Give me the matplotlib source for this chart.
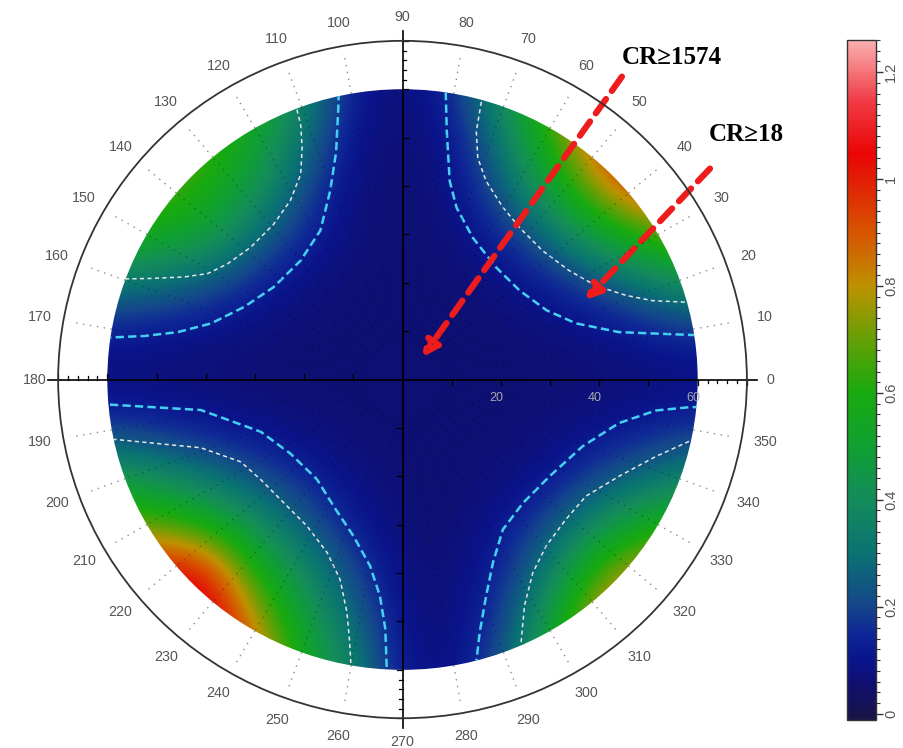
import numpy as np
import matplotlib
matplotlib.use("Agg")
import matplotlib.pyplot as plt
from matplotlib.colors import LinearSegmentedColormap, Normalize
from matplotlib.patches import Circle
import matplotlib.cm as cm

# ---------------- data ----------------
grid_x = [-60, -50, -40, -30, -20, -10, 0, 10, 20, 30, 40, 50, 60]
grid_y = [60, 50, 40, 30, 20, 10, 0, -10, -20, -30, -40, -50, -60]
row_p60 = [0.85, 0.80, 0.72, 0.58, 0.36, 0.12, 0.06, 0.15, 0.40, 0.72, 1.00, 1.10, 1.15]
row_p50 = [0.82, 0.75, 0.66, 0.52, 0.30, 0.09, 0.06, 0.10, 0.32, 0.62, 0.95, 1.10, 1.15]
row_p40 = [0.78, 0.70, 0.60, 0.45, 0.22, 0.07, 0.06, 0.08, 0.25, 0.50, 0.80, 1.00, 1.05]
row_p30 = [0.62, 0.55, 0.50, 0.30, 0.14, 0.07, 0.06, 0.07, 0.14, 0.30, 0.50, 0.65, 0.78]
row_p20 = [0.32, 0.30, 0.24, 0.14, 0.08, 0.06, 0.06, 0.06, 0.08, 0.13, 0.22, 0.33, 0.42]
row_p10 = [0.13, 0.11, 0.09, 0.07, 0.06, 0.06, 0.06, 0.06, 0.06, 0.07, 0.09, 0.13, 0.17]
row_0 = [0.06, 0.06, 0.06, 0.06, 0.06, 0.06, 0.06, 0.06, 0.06, 0.06, 0.06, 0.06, 0.06]
row_m10 = [0.18, 0.15, 0.12, 0.09, 0.07, 0.06, 0.06, 0.06, 0.06, 0.07, 0.09, 0.13, 0.17]
row_m20 = [0.45, 0.38, 0.30, 0.22, 0.14, 0.08, 0.06, 0.06, 0.07, 0.10, 0.20, 0.28, 0.35]
row_m30 = [0.72, 0.68, 0.58, 0.40, 0.25, 0.12, 0.06, 0.06, 0.10, 0.22, 0.40, 0.55, 0.65]
row_m40 = [0.95, 1.08, 1.02, 0.60, 0.38, 0.20, 0.07, 0.07, 0.14, 0.34, 0.68, 0.85, 0.90]
row_m50 = [1.05, 1.20, 1.15, 0.80, 0.48, 0.28, 0.08, 0.07, 0.18, 0.47, 0.85, 1.00, 1.00]
row_m60 = [1.10, 1.20, 1.15, 0.90, 0.55, 0.35, 0.10, 0.08, 0.22, 0.55, 0.90, 1.00, 1.00]

# CR contour lines (x, y in the radial units of the plot)
cyan_q1_x = [8.8, 8.8, 9.0, 9.6, 11.0, 14.3, 19.1, 23.8, 29.3, 35.3, 44.0, 59.0, 62.0]
cyan_q1_y = [62.0, 58.9, 51.3, 41.0, 35.5, 29.3, 23.1, 18.4, 14.3, 11.6, 9.8, 9.2, 9.2]
white_q1_x = [16.5, 16.0, 15.0, 15.3, 17.0, 20.4, 23.8, 28.5, 33.9, 39.3, 45.4, 50.8, 57.5, 62.0]
white_q1_y = [62.0, 57.2, 51.3, 45.8, 41.0, 35.6, 31.4, 26.6, 22.5, 19.4, 17.4, 16.3, 16.0, 16.0]
cyan_q2_x = [-13.0, -13.0, -13.5, -14.7, -16.7, -20.7, -26.2, -32.2, -38.9, -45.7, -52.5, -59.2, -62.0]
cyan_q2_y = [62.0, 57.2, 47.0, 39.0, 30.8, 24.6, 19.1, 15.0, 11.6, 9.8, 9.0, 8.7, 8.7]
white_q2_x = [-21.4, -21.4, -20.7, -20.4, -20.7, -22.8, -26.2, -30.9, -35.6, -39.6, -44.4, -51.1, -56.2, -62.0]
white_q2_y = [62.0, 55.5, 52.7, 47.9, 42.4, 37.0, 32.1, 27.3, 23.9, 21.9, 21.2, 20.9, 20.8, 20.8]
cyan_q3_x = [-62.0, -59.2, -41.0, -28.8, -22.8, -17.4, -14.0, -10.0, -6.6, -4.6, -3.5, -3.2, -3.2]
cyan_q3_y = [-5.2, -5.2, -6.3, -10.8, -15.3, -20.6, -26.2, -32.3, -38.5, -44.7, -51.5, -59.8, -62.0]
white_q3_x = [-62.0, -58.2, -41.0, -32.9, -28.8, -24.8, -19.4, -15.3, -12.7, -11.3, -10.8, -10.5, -10.5]
white_q3_y = [-12.4, -12.4, -14.1, -17.0, -20.7, -24.8, -30.3, -35.8, -41.3, -48.1, -53.6, -58.7, -62.0]
cyan_q4_x = [15.0, 15.0, 15.7, 17.0, 18.4, 20.4, 24.5, 29.9, 36.6, 44.0, 51.5, 58.5, 62.0]
cyan_q4_y = [-62.0, -58.4, -52.2, -44.7, -37.8, -31.0, -25.5, -20.0, -13.8, -9.0, -6.4, -5.7, -5.7]
white_q4_x = [24.1, 24.1, 24.8, 26.5, 29.2, 33.2, 37.3, 44.0, 51.5, 58.2, 62.0]
white_q4_y = [-62.0, -54.3, -46.7, -39.9, -34.4, -28.9, -24.1, -20.0, -15.9, -12.8, -12.5]

theta_ticks_deg = list(range(0, 360, 10))
theta_labels = [str(a) for a in theta_ticks_deg]
radial_ticks = [20, 40, 60]
radial_labels = ["20", "40", "60"]
cbar_ticks = [0, 0.2, 0.4, 0.6, 0.8, 1.0, 1.2]
cbar_labels = ["0", "0.2", "0.4", "0.6", "0.8", "1", "1.2"]
annot_labels = ["CR\u22651574", "CR\u226518"]

# ---------------- colormap ----------------
vmin, vmax = -0.012, 1.26
stops = [
    (-0.012, (25, 20, 70)), (0.05, (15, 15, 110)), (0.10, (10, 20, 140)),
    (0.15, (15, 40, 150)), (0.20, (20, 70, 140)), (0.30, (10, 115, 115)),
    (0.40, (20, 140, 90)), (0.50, (15, 160, 50)), (0.60, (25, 170, 15)),
    (0.70, (100, 160, 5)), (0.80, (190, 145, 0)), (0.90, (215, 85, 0)),
    (1.00, (225, 30, 5)), (1.05, (235, 5, 5)), (1.15, (240, 60, 70)),
    (1.26, (250, 175, 175)),
]
cmap = LinearSegmentedColormap.from_list(
    "cr", [((v - vmin) / (vmax - vmin), tuple(c / 255 for c in col)) for v, col in stops])

# ---------------- figure ----------------
fig = plt.figure(figsize=(9.04, 7.48), dpi=100)
rect = [0.0643, 0.0398, 0.7619, 0.9056]
R = 70
R_DATA = 60

axc = fig.add_axes(rect)
field = np.array([row_p60, row_p50, row_p40, row_p30, row_p20, row_p10, row_0,
                  row_m10, row_m20, row_m30, row_m40, row_m50, row_m60])
im = axc.imshow(field, extent=[grid_x[0] - 5, grid_x[-1] + 5, grid_y[-1] - 5, grid_y[0] + 5],
                origin="upper", cmap=cmap, vmin=vmin, vmax=vmax,
                interpolation="bicubic", aspect="auto", zorder=1)
im.set_clip_path(Circle((0, 0), R_DATA, transform=axc.transData))
axc.set_xlim(-R, R)
axc.set_ylim(-R, R)
axc.axis("off")

# contours
for xs, ys, col, lw, ds in [
    (cyan_q1_x, cyan_q1_y, "#45d2f2", 1.8, (3.3, 1.7)),
    (cyan_q2_x, cyan_q2_y, "#45d2f2", 1.8, (3.3, 1.7)),
    (cyan_q3_x, cyan_q3_y, "#45d2f2", 1.8, (3.3, 1.7)),
    (cyan_q4_x, cyan_q4_y, "#45d2f2", 1.8, (3.3, 1.7)),
    (white_q1_x, white_q1_y, "#e6e6e6", 1.1, (2.7, 2.2)),
    (white_q2_x, white_q2_y, "#e6e6e6", 1.1, (2.7, 2.2)),
    (white_q3_x, white_q3_y, "#e6e6e6", 1.1, (2.7, 2.2)),
    (white_q4_x, white_q4_y, "#e6e6e6", 1.1, (2.7, 2.2)),
]:
    ln, = axc.plot(xs, ys, color=col, lw=lw, dashes=ds, zorder=3)
    ln.set_clip_path(Circle((0, 0), R_DATA, transform=axc.transData))

# cross axes with small ticks
axis_len = 72
axc.plot([-axis_len, axis_len], [0, 0], color="black", lw=1.2, zorder=4, clip_on=False)
axc.plot([0, 0], [-axis_len, axis_len], color="black", lw=1.2, zorder=4, clip_on=False)
tl = 0.8
for t in list(np.arange(62, 71, 2)) + [10, 20, 30, 40, 50, 60]:
    L = tl * (1.5 if t % 10 == 0 else 1.0)
    for (x0, y0, x1, y1) in [(t, 0, t, -L), (-t, 0, -t, L), (0, t, L, t), (0, -t, -L, -t)]:
        axc.plot([x0, x1], [y0, y1], color="black", lw=0.9, zorder=4, clip_on=False)

# radial labels
for r, lab in zip(radial_ticks, radial_labels):
    axc.annotate(lab, xy=(r, 0), xytext=(-3, -13), textcoords="offset points",
                 ha="center", va="center", fontsize=9, color="#a8a8a8",
                 family="Liberation Sans", zorder=5)

# polar axes on top
axp = fig.add_axes(rect, projection="polar")
axp.set_aspect("auto")
axp.patch.set_alpha(0)
axp.set_ylim(0, R)
axp.set_yticks([])
axp.set_xticks(np.deg2rad(theta_ticks_deg))
axp.set_xticklabels(theta_labels, family="Liberation Sans", fontsize=10.3, color="#555555")
axp.set_xticks(np.deg2rad(np.arange(0, 360, 2)), minor=True)
axp.tick_params(axis="x", which="major", direction="in", length=8, width=1.1,
                color="#333333", pad=10)
axp.tick_params(axis="x", which="minor", direction="in", length=4, width=0.9,
                color="#333333")
axp.grid(False)
# dotted spokes: grey in the empty ring, faint dark over the field
for a in theta_ticks_deg:
    if a % 90 == 0:
        continue
    th = np.deg2rad(a)
    axp.plot([th, th], [R_DATA, R - 1.5], color="#8a8a8a", linestyle=(0, (1, 4)), lw=1.0)
    axp.plot([th, th], [8, R_DATA], color="black", alpha=0.3, linestyle=(0, (1, 4)), lw=1.0)
axp.set_ylim(0, R)
axp.spines["polar"].set_linewidth(1.3)
axp.spines["polar"].set_color("#333333")

# annotations
arrow_kw = dict(arrowstyle="-|>,head_length=0.9,head_width=0.45", color="#ee1c1c",
                lw=4.5, linestyle=(0, (2.8, 1.6)), shrinkA=0, shrinkB=0)
axc.annotate("", xy=(4.0, 4.6), xytext=(44.6, 62.6), arrowprops=arrow_kw, zorder=6,
             annotation_clip=False)
axc.annotate("", xy=(37.1, 16.4), xytext=(62.5, 43.6), arrowprops=arrow_kw, zorder=6,
             annotation_clip=False)
tfont = dict(family=["Liberation Serif", "DejaVu Serif"], fontsize=18, weight="bold",
             color="black", ha="center", va="center")
axc.text(54.8, 66.6, annot_labels[0], clip_on=False, zorder=6, **tfont)
axc.text(69.8, 50.6, annot_labels[1], clip_on=False, zorder=6, **tfont)

# colorbar
cax = fig.add_axes([0.937, 0.0374, 0.032, 0.909])
sm = cm.ScalarMappable(norm=Normalize(vmin=vmin, vmax=vmax), cmap=cmap)
cb = fig.colorbar(sm, cax=cax)
cb.set_ticks(cbar_ticks)
cb.set_ticklabels(cbar_labels)
cb.ax.set_yticks(np.arange(0, 1.27, 0.02), minor=True)
cb.ax.tick_params(which="major", length=5, width=1, color="#333333", labelsize=10.5,
                  labelcolor="#555555", pad=1)
cb.ax.tick_params(which="minor", length=3, width=0.8, color="#333333")
for lab in cb.ax.get_yticklabels():
    lab.set_rotation(90)
    lab.set_va("center")
    lab.set_family("Liberation Sans")
cb.outline.set_linewidth(1.0)
cb.outline.set_edgecolor("#333333")

fig.savefig("out.png", dpi=100)
